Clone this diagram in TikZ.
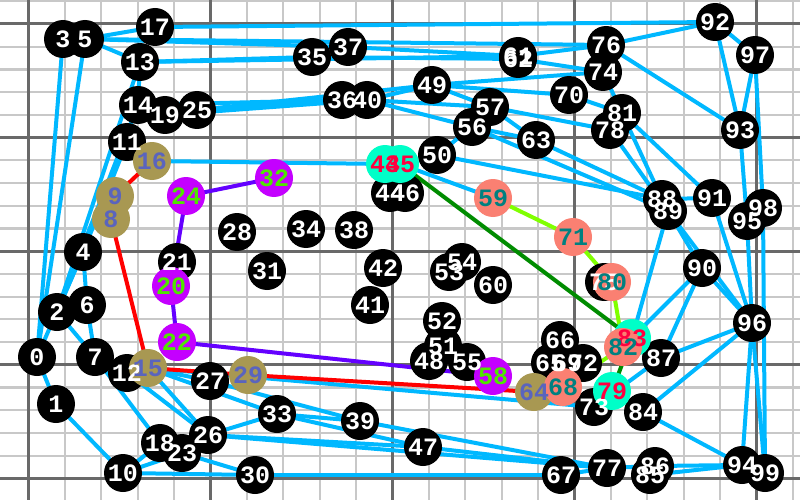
\documentclass[tikz,border=0pt]{standalone}
\usepackage{fontspec}
\newfontfamily\stopfont{Liberation Mono}
\definecolor{linkblue}{RGB}{0,184,255}
\definecolor{minorgray}{RGB}{200,200,200}
\definecolor{majorgray}{RGB}{105,105,105}
\definecolor{khakifill}{RGB}{168,152,82}
\definecolor{slatetext}{RGB}{90,100,190}
\definecolor{purplefill}{RGB}{196,0,255}
\definecolor{limetext}{RGB}{80,230,0}
\definecolor{salmonfill}{RGB}{250,128,114}
\definecolor{tealtext}{RGB}{0,128,128}
\definecolor{aquafill}{RGB}{0,255,200}
\definecolor{crimsontext}{RGB}{255,0,64}
\definecolor{purpleline}{RGB}{100,0,255}
\definecolor{limeline}{RGB}{128,255,0}
\definecolor{greenline}{RGB}{0,140,0}

\begin{document}
\begin{tikzpicture}[x=1pt,y=-1pt,
		minorline/.style={draw=minorgray,line width=2.2pt},
		majorline/.style={draw=majorgray,line width=3pt},
		link/.style={draw=linkblue,line width=4pt},
		route/.style={line width=4pt,line join=round},
		stop/.style={circle,minimum size=38pt,inner sep=0pt,fill=black},
		tag/.style={font=\stopfont\bfseries\fontsize{25}{25}\selectfont,inner sep=0pt,text=white}]
	\useasboundingbox (0,0) rectangle (800,500);
	\fill[white] (0,0) rectangle (800,500);
	\foreach \k in {0,...,21}
		\draw[minorline] ({28.5+36.4*\k},0) -- ++(0,500);
	\foreach \k in {-1,...,21}
		\draw[minorline] (0,{24+22.72*\k}) -- ++(800,0);
	\foreach \k in {0,5,...,20}
		\draw[majorline] ({28.5+36.4*\k},0) -- ++(0,500);
	\foreach \k in {0,5,...,20}
		\draw[majorline] (0,{24+22.72*\k}) -- ++(800,0);

	\foreach \n/\x/\y in {0/37/357,1/56/404,2/57/312,3/63/39,4/83/252,5/85/39,6/87/305,
		7/95/357,8/111/219,9/115/196,10/123/473,11/127/142,12/127/373,13/140/62,
		14/138/105,15/148/368,16/152/161,17/155/27,18/160/443,19/165/115,20/171/286,
		21/177/262,22/177/342,23/182/453,24/186/196,25/197/110,26/208/435,27/210/381,
		28/237/232,29/248/375,30/255/475,31/267/271,32/274/178,33/277/414,34/306/229,
		35/312/57,36/342/100,37/348/47,38/354/230,39/360/421,40/367/100,41/370/305,
		42/383/268,43/385/164,44/390/193,45/400/164,46/405/193,47/423/447,48/429/361,
		49/432/85,50/437/155,51/443/346,52/442/321,53/449/272,54/462/262,55/467/362,
		56/472/127,57/490/107,58/493/376,59/493/198,60/493/285,61/518/56,62/518/59,
		63/536/140,64/534/392,65/550/363,66/560/340,67/561/475,68/563/387,69/567/363,
		70/569/95,71/573/237,72/583/363,73/594/407,74/603/72,75/604/282,76/606/45,
		77/607/468,78/610/130,79/612/391,80/612/282,81/622/113,82/623/347,83/632/338,
		84/643/412,85/650/475,86/655/466,87/661/358,88/662/199,89/668/211,90/702/268,
		91/712/198,92/715/22,93/740/130,94/742/465,95/747/221,96/752/323,97/755/55,
		98/763/208,99/765/473}
		\coordinate (p\n) at (\x,\y);

	\foreach \a/\b in {0/3,0/5,0/1,0/4,1/10,2/4,4/6,6/7,2/7,2/13,2/14,4/11,7/18,10/18,
		10/23,23/30,10/30,30/67,67/77,77/86,85/94,86/94,94/99,94/96,96/99,98/99,97/98,
		95/96,93/95,92/93,92/97,93/97,76/93,76/92,17/92,5/17,5/13,5/37,5/76,13/35,
		13/61,35/62,37/61,61/76,62/74,13/14,14/36,19/40,25/36,25/49,40/49,40/56,40/57,
		49/57,49/74,49/70,57/63,56/63,57/78,70/81,74/81,81/91,81/88,78/89,50/56,50/88,
		56/89,63/88,88/91,89/90,89/96,90/96,91/96,83/89,83/90,87/90,87/96,84/96,84/94,
		73/87,16/43,45/59,12/26,15/26,15/27,15/33,15/73,27/39,26/33,33/39,26/47,26/77,
		39/77,47/77,33/47}
		\draw[link] (p\a) -- (p\b);

	\draw[route,red] (p16) -- (p9) -- (p8) -- (p15) -- (p29) -- (p64);
	\draw[route,purpleline] (p32) -- (p24) -- (p20) -- (p22) -- (p58);
	\draw[route,limeline] (p59) -- (p71) -- (p80) -- (p82) -- (p68);
	\draw[route,greenline] (p43) -- (p45) -- (p83) -- (p79);

	\foreach \n in {0,...,7,10,11,12,13,14,17,18,19,21,23,25,26,27,28,30,31,33,34,35,36,
		37,38,39,40,41,42,44,46,47,48,49,50,51,52,53,54,55,56,57,60,61,62,63,65,66,67,
		69,70,72,73,74,75,76,77,78,81,84,85,86,87,88,89,90,91,92,93,94,95,96,97,98,99}
		\node[stop] (s\n) at (p\n) {};
	\foreach \n in {43,45,83,79}
		\node[stop,fill=aquafill] (s\n) at (p\n) {};
	\foreach \n in {16,9,8,15,29,64}
		\node[stop,fill=khakifill] (s\n) at (p\n) {};
	\foreach \n in {32,24,20,22,58}
		\node[stop,fill=purplefill] (s\n) at (p\n) {};
	\foreach \n in {59,71,80,82,68}
		\node[stop,fill=salmonfill] (s\n) at (p\n) {};

	\foreach \n in {0,...,7,10,11,12,13,14,17,18,19,21,23,25,26,27,28,30,31,33,34,35,36,
		37,38,39,40,41,42,44,46,47,48,49,50,51,52,53,54,55,56,57,60,61,62,63,65,66,67,
		69,70,72,73,74,75,76,77,78,81,84,85,86,87,88,89,90,91,92,93,94,95,96,97,98,99}
		\node[tag] (t\n) at (p\n) {\n};
	\foreach \n in {43,45,83,79}
		\node[tag,text=crimsontext] (t\n) at (p\n) {\n};
	\foreach \n in {16,9,8,15,29,64}
		\node[tag,text=slatetext] (t\n) at (p\n) {\n};
	\foreach \n in {32,24,20,22,58}
		\node[tag,text=limetext] (t\n) at (p\n) {\n};
	\foreach \n in {59,71,80,82,68}
		\node[tag,text=tealtext] (t\n) at (p\n) {\n};
\end{tikzpicture}
\end{document}
